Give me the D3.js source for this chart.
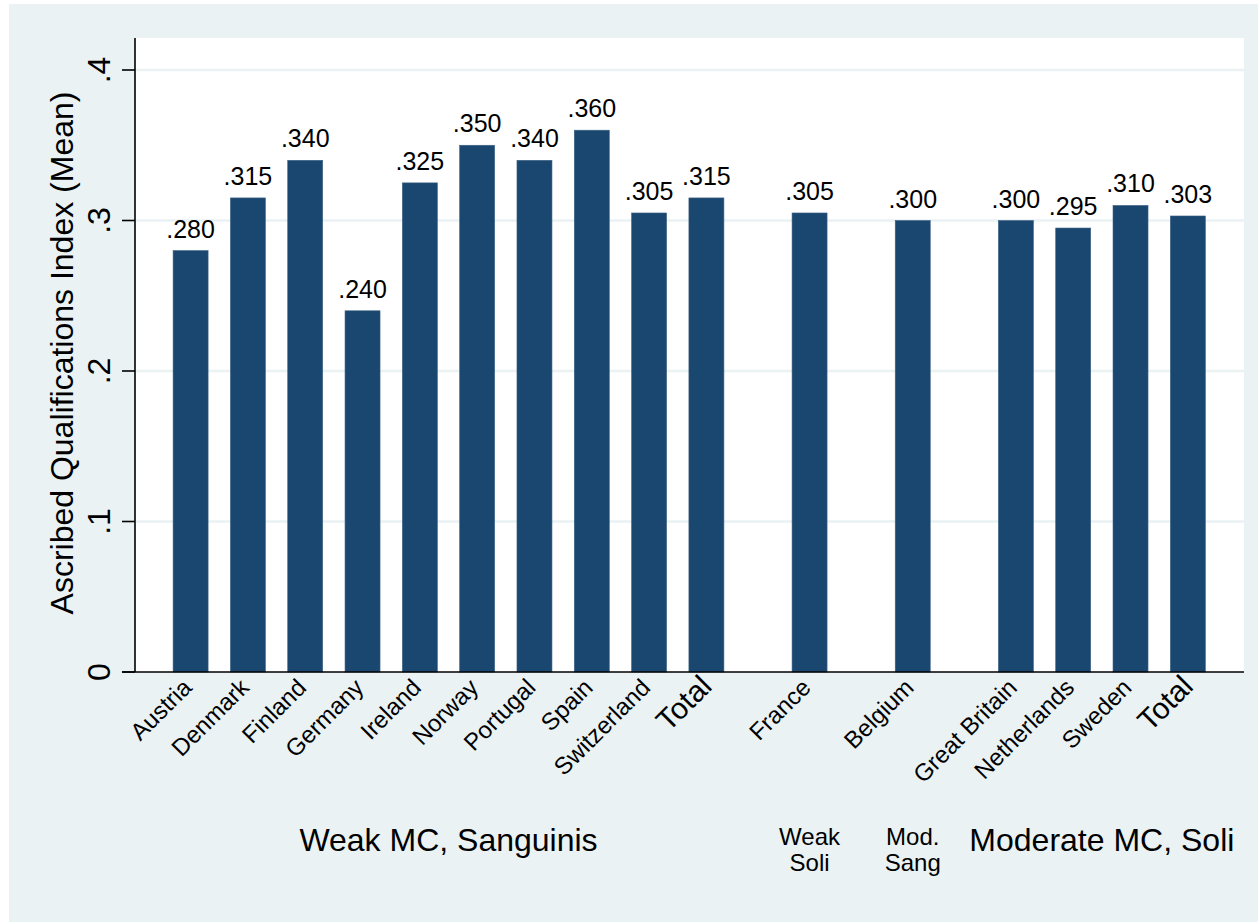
<!DOCTYPE html>
<html>
<head>
<meta charset="utf-8">
<script src="https://cdn.jsdelivr.net/npm/d3@7"></script>
<style>
  html, body { margin: 0; padding: 0; background: #ffffff; }
  svg { display: block; font-family: "Liberation Sans", Arial, Helvetica, sans-serif; }
</style>
</head>
<body>
<svg id="chart" width="1258" height="922"></svg>
<script>
// ---- data ----
const categories = ["Austria", "Denmark", "Finland", "Germany", "Ireland", "Norway", "Portugal", "Spain", "Switzerland", "Total",
                    "France", "Belgium", "Great Britain", "Netherlands", "Sweden", "Total"];
const values = [0.280, 0.315, 0.340, 0.240, 0.325, 0.350, 0.340, 0.360, 0.305, 0.315,
                0.305, 0.300, 0.300, 0.295, 0.310, 0.303];
const groupIndex = [0, 0, 0, 0, 0, 0, 0, 0, 0, 0, 1, 2, 3, 3, 3, 3];
const groupLabels = [["Weak MC, Sanguinis"], ["Weak", "Soli"], ["Mod.", "Sang"], ["Moderate MC, Soli"]];
const yTicks = [0, 0.1, 0.2, 0.3, 0.4];
const yTickLabels = ["0", ".1", ".2", ".3", ".4"];
const yTitle = "Ascribed Qualifications Index (Mean)";

// ---- layout ----
const W = 1258, H = 922;
const plot = { left: 135, right: 1244, top: 38, bottom: 672 };
const groupGap = 1.8;
const BG = "#EAF2F3", NAVY = "#1A476F";

// slot positions: 1 per bar, extra gap between groups
const pos = [];
let p = 0;
categories.forEach((c, i) => {
  if (i > 0) p += (groupIndex[i] !== groupIndex[i - 1]) ? groupGap : 1;
  pos.push(p);
});

const x = d3.scaleLinear().domain([-0.97, pos[pos.length - 1] + 0.98]).range([plot.left, plot.right]);
const y = d3.scaleLinear().domain([0, 0.4]).range([plot.bottom, 70]);
const barW = 35;

const svg = d3.select("#chart");

// outer background
svg.append("rect").attr("x", 9).attr("y", 4).attr("width", W - 9).attr("height", H - 4).attr("fill", BG);
// plot region
svg.append("rect").attr("x", plot.left).attr("y", plot.top)
  .attr("width", plot.right - plot.left).attr("height", plot.bottom - plot.top).attr("fill", "#ffffff");

// gridlines
svg.append("g").selectAll("line").data(yTicks.filter(t => t > 0)).join("line")
  .attr("x1", plot.left).attr("x2", plot.right)
  .attr("y1", d => y(d)).attr("y2", d => y(d))
  .attr("stroke", BG).attr("stroke-width", 2.5);

// bars
svg.append("g").selectAll("rect").data(values).join("rect")
  .attr("x", (d, i) => x(pos[i]) - barW / 2)
  .attr("y", d => y(d))
  .attr("width", barW)
  .attr("height", d => y(0) - y(d))
  .attr("fill", NAVY)
  .attr("stroke", "#3d6285").attr("stroke-width", 0.6);

// bar value labels
const fmt = v => d3.format(".3f")(v).replace(/^0/, "");
svg.append("g").selectAll("text").data(values).join("text")
  .attr("x", (d, i) => x(pos[i]))
  .attr("y", d => y(d) - 13)
  .attr("text-anchor", "middle")
  .attr("font-size", 25)
  .attr("fill", "#000")
  .text(d => fmt(d));

// y axis
const yAxis = svg.append("g");
yAxis.append("line").attr("x1", plot.left).attr("x2", plot.left)
  .attr("y1", plot.top).attr("y2", plot.bottom).attr("stroke", "#000").attr("stroke-width", 1.6);
yAxis.selectAll("line.tick").data(yTicks).join("line").attr("class", "tick")
  .attr("x1", plot.left - 13).attr("x2", plot.left)
  .attr("y1", d => y(d)).attr("y2", d => y(d))
  .attr("stroke", "#000").attr("stroke-width", 1.6);
yAxis.selectAll("text").data(yTicks).join("text")
  .attr("transform", d => `translate(110,${y(d)}) rotate(-90)`)
  .attr("text-anchor", "middle")
  .attr("font-size", 32)
  .attr("fill", "#000")
  .text((d, i) => yTickLabels[i]);

// y title
svg.append("text")
  .attr("transform", `translate(73,${(plot.top + plot.bottom) / 2 - 2}) rotate(-90)`)
  .attr("text-anchor", "middle")
  .attr("font-size", 32)
  .attr("fill", "#000")
  .text(yTitle);

// x axis line
svg.append("line").attr("x1", plot.left - 13).attr("x2", plot.right)
  .attr("y1", plot.bottom).attr("y2", plot.bottom).attr("stroke", "#000").attr("stroke-width", 1.6);

// x tick labels (rotated 45)
svg.append("g").selectAll("text").data(categories).join("text")
  .attr("transform", (d, i) => {
    const big = d === "Total";
    return `translate(${x(pos[i]) + (big ? 7 : 2.5)},${plot.bottom + (big ? 16 : 17)}) rotate(-45)`;
  })
  .attr("text-anchor", "end")
  .attr("font-size", d => d === "Total" ? 30 : 24)
  .attr("fill", "#000")
  .text(d => d);

// group labels
groupLabels.forEach((lines, g) => {
  const idx = groupIndex.map((gi, i) => gi === g ? i : -1).filter(i => i >= 0);
  const cx = (x(pos[idx[0]]) + x(pos[idx[idx.length - 1]])) / 2;
  const big = lines.length === 1;
  const t = svg.append("text")
    .attr("x", cx)
    .attr("y", big ? 851 : 845)
    .attr("text-anchor", "middle")
    .attr("font-size", big ? 32 : 24)
    .attr("fill", "#000");
  lines.forEach((ln, k) => {
    t.append("tspan").attr("x", cx).attr("dy", k === 0 ? 0 : 26).text(ln);
  });
});
</script>
</body>
</html>
